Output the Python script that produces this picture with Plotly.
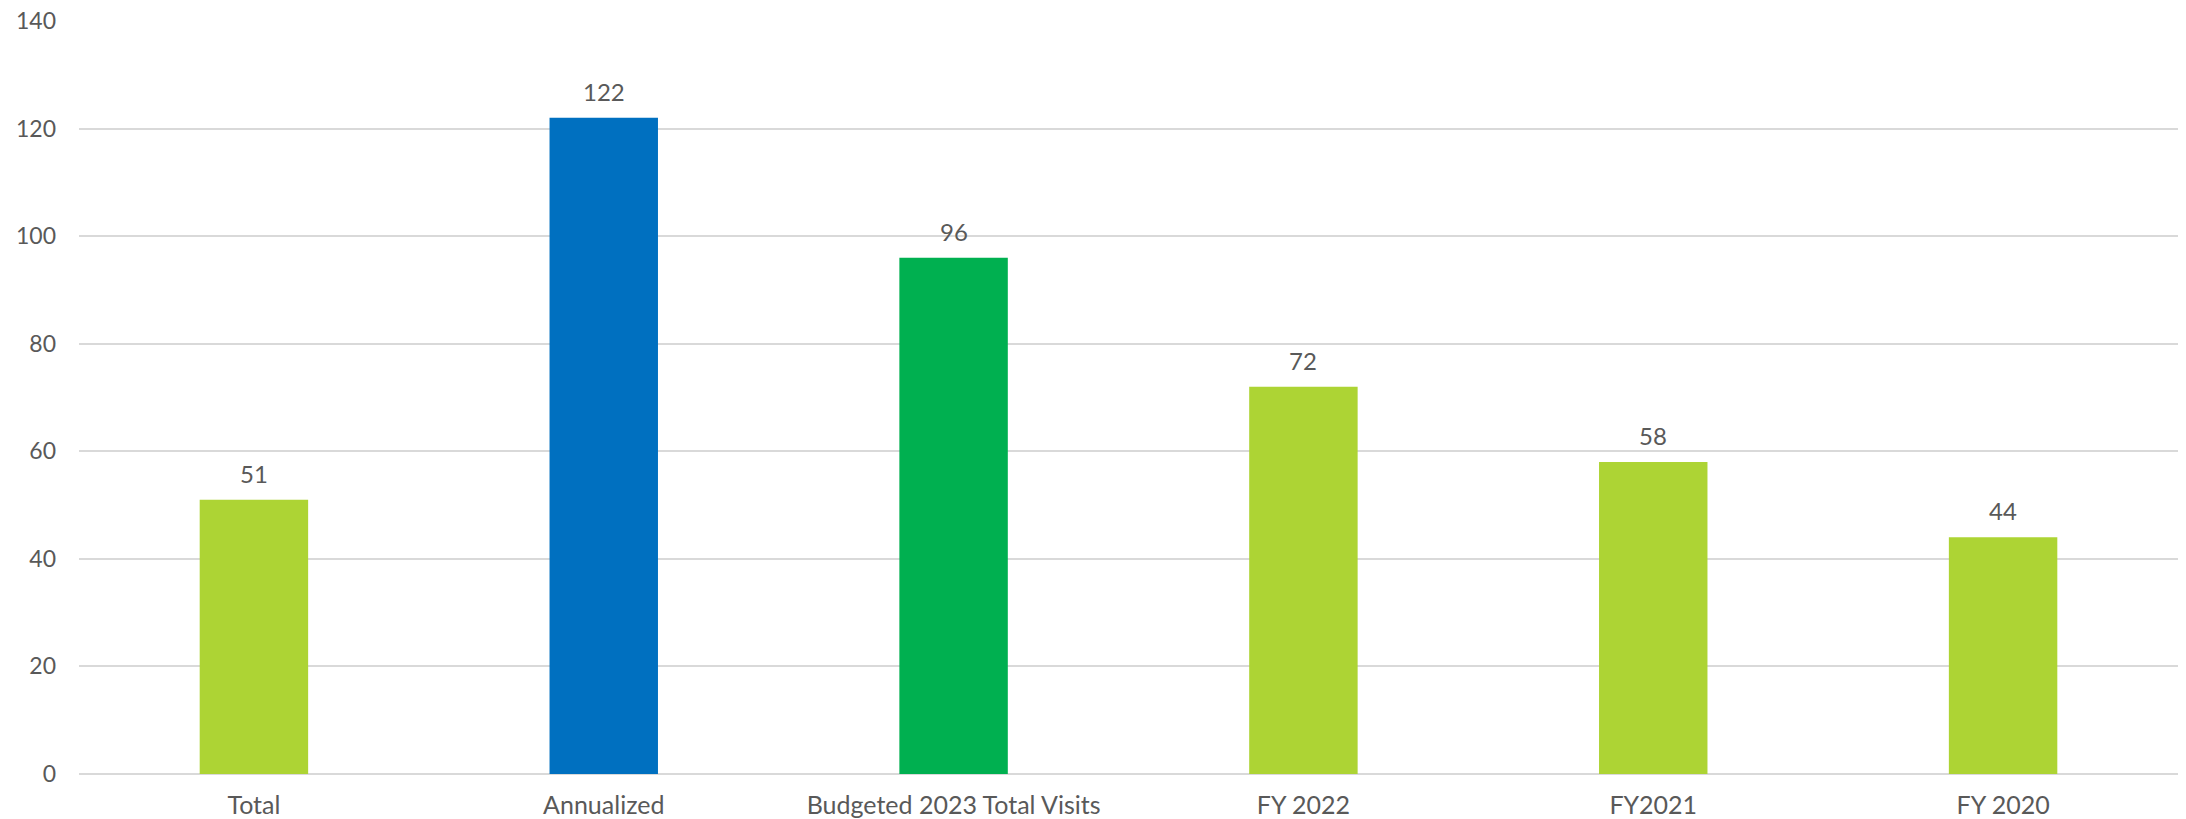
import plotly.graph_objects as go

categories = ["Total", "Annualized", "Budgeted 2023 Total Visits", "FY 2022", "FY2021", "FY 2020"]
visits = [51, 122, 96, 72, 58, 44]
bar_colors = ["#ADD434", "#0070C0", "#00B050", "#ADD434", "#ADD434", "#ADD434"]
y_ticks = [0, 20, 40, 60, 80, 100, 120, 140]

text_color = "#595959"
grid_color = "#D9D9D9"
font_family = "Lato, 'Noto Sans', sans-serif"

fig = go.Figure(
    go.Bar(
        x=categories,
        y=visits,
        marker=dict(color=bar_colors, line=dict(width=0)),
        width=0.31,
        hoverinfo="x+y",
    )
)

# value labels above each bar
for cat, val in zip(categories, visits):
    fig.add_annotation(
        x=cat, y=val, text=str(val), showarrow=False,
        yanchor="bottom", yshift=10,
        font=dict(size=24, color=text_color, family=font_family),
    )

fig.update_layout(
    width=2186, height=819,
    margin=dict(l=79, r=8, t=21, b=45),
    paper_bgcolor="white", plot_bgcolor="white",
    showlegend=False,
    font=dict(family=font_family, size=22, color=text_color),
    xaxis=dict(
        showgrid=False, showline=False, zeroline=False,
        tickfont=dict(size=25, color=text_color),
        ticklabelstandoff=14,
        automargin=False,
    ),
    yaxis=dict(
        range=[0, 140], tickvals=y_ticks,
        showgrid=True, gridcolor=grid_color, gridwidth=2,
        zeroline=True, zerolinecolor=grid_color, zerolinewidth=2,
        showline=False,
        tickfont=dict(size=23, color=text_color),
        ticklabelstandoff=22,
        automargin=False,
    ),
)

fig.write_html("out.html")
